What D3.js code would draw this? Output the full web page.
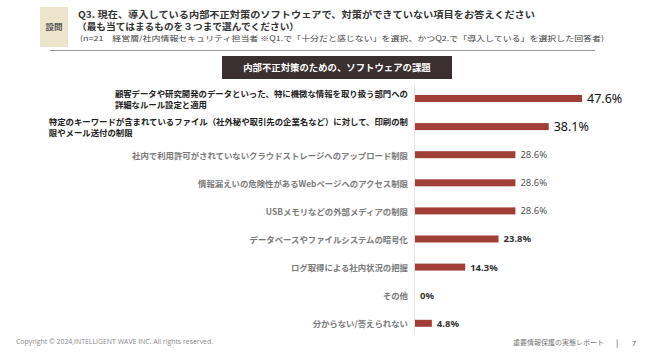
<!DOCTYPE html>
<html>
<head>
<meta charset="utf-8">
<script src="https://cdn.jsdelivr.net/npm/d3@7"></script>
<style>
  body { margin: 0; background: #fff; }
  svg { display: block; }
  text { font-family: "Noto Sans CJK JP", "Noto Sans", sans-serif; }
</style>
</head>
<body>
<div id="chart"></div>
<script>
// Categories, one array of lines per item
var categories = [
  ['顧客データや研究開発のデータといった、特に機微な情報を取り扱う部門への', '詳細なルール設定と適用'],
  ['特定のキーワードが含まれているファイル（社外秘や取引先の企業名など）に対して、印刷の制', '限やメール送付の制限'],
  ['社内で利用許可がされていないクラウドストレージへのアップロード制限'],
  ['情報漏えいの危険性があるWebページへのアクセス制限'],
  ['USBメモリなどの外部メディアの制限'],
  ['データベースやファイルシステムの暗号化'],
  ['ログ取得による社内状況の把握'],
  ['その他'],
  ['分からない/答えられない']
];

// Share of respondents (%)
var values = [47.6, 38.1, 28.6, 28.6, 28.6, 23.8, 14.3, 0, 4.8];

// Value labels as printed
var valueLabels = ['47.6%', '38.1%', '28.6%', '28.6%', '28.6%', '23.8%', '14.3%', '0%', '4.8%'];

var headerLines = [
  'Q3. 現在、導入している内部不正対策のソフトウェアで、対策ができていない項目をお答えください',
  '（最も当てはまるものを３つまで選んでください）',
  '(n=21　経営層/社内情報セキュリティ担当者 ※Q1.で「十分だと感じない」を選択、かつQ2.で「導入している」を選択した回答者)'
];

var chartTitle = '内部不正対策のための、ソフトウェアの課題';

var width = 665,
  height = 363;

var svg = d3.select('#chart').append('svg')
  .attr('width', width)
  .attr('height', height);

// Question block
svg.append('rect')
  .attr('x', 40).attr('y', 7)
  .attr('width', 28).attr('height', 40)
  .attr('fill', '#ede5cb');

svg.append('text')
  .attr('x', 54).attr('y', 30)
  .attr('text-anchor', 'middle')
  .attr('font-size', 8.5)
  .attr('font-weight', 'bold')
  .attr('fill', '#555')
  .text('設問');

svg.append('text')
  .attr('x', 78).attr('y', 18)
  .attr('font-size', 9)
  .attr('font-weight', 'bold')
  .attr('fill', '#333')
  .attr('textLength', 457)
  .attr('lengthAdjust', 'spacingAndGlyphs')
  .text(headerLines[0]);

svg.append('text')
  .attr('x', 77).attr('y', 30)
  .attr('font-size', 9)
  .attr('font-weight', 'bold')
  .attr('fill', '#333')
  .attr('textLength', 222)
  .attr('lengthAdjust', 'spacingAndGlyphs')
  .text(headerLines[1]);

svg.append('text')
  .attr('x', 80).attr('y', 41)
  .attr('font-size', 7)
  .attr('fill', '#444')
  .attr('textLength', 524)
  .attr('lengthAdjust', 'spacingAndGlyphs')
  .text(headerLines[2]);

svg.append('line')
  .attr('x1', 50).attr('x2', 595)
  .attr('y1', 50.5).attr('y2', 50.5)
  .attr('stroke', '#999')
  .attr('stroke-width', 1);

// Chart title box
svg.append('rect')
  .attr('x', 222).attr('y', 56)
  .attr('width', 230).attr('height', 23)
  .attr('fill', '#3a3030');

svg.append('text')
  .attr('x', 337).attr('y', 70.8)
  .attr('text-anchor', 'middle')
  .attr('font-size', 9.4)
  .attr('font-weight', 'bold')
  .attr('fill', '#fff')
  .text(chartTitle);

// Scales
var x = d3.scaleLinear()
  .domain([0, 50])
  .range([414, 414 + 175.5]);

var y = d3.scalePoint()
  .domain(d3.range(categories.length))
  .range([98.5, 323.3]);

var barHeight = 7;

// Axis line
svg.append('line')
  .attr('x1', x(0) + 0.5).attr('x2', x(0) + 0.5)
  .attr('y1', 85).attr('y2', 334)
  .attr('stroke', '#e4e4e4')
  .attr('stroke-width', 1);

// Bars
svg.selectAll('rect.bar')
  .data(values)
  .enter()
  .append('rect')
  .attr('class', 'bar')
  .attr('x', x(0) + 1)
  .attr('y', function (d, i) { return y(i) - barHeight / 2; })
  .attr('width', function (d) { return Math.max(0, x(d) - x(0)); })
  .attr('height', barHeight)
  .attr('fill', '#a23e38');

// Value labels: first two large, middle three light, rest bold
svg.selectAll('text.value')
  .data(values)
  .enter()
  .append('text')
  .attr('class', 'value')
  .attr('x', function (d) { return x(d) + 6; })
  .attr('y', function (d, i) { return y(i); })
  .attr('dy', '0.36em')
  .style('font-family', '"Noto Sans", sans-serif')
  .attr('font-size', function (d, i) { return i < 2 ? 12.5 : 9.5; })
  .attr('font-weight', function (d, i) { return i <= 4 ? 'normal' : 'bold'; })
  .attr('fill', function (d, i) { return i < 2 ? '#111' : (i <= 4 ? '#555' : '#333'); })
  .text(function (d, i) { return valueLabels[i]; });

// Category labels
var labelRight = 408,
  lineGap = 11;

svg.selectAll('g.label')
  .data(categories)
  .enter()
  .append('g')
  .attr('class', 'label')
  .each(function (lines, i) {
    var g = d3.select(this),
      top = y(i) - (lines.length - 1) * lineGap / 2 + 1,
      strong = i < 2;

    var first = g.append('text')
      .attr('x', labelRight)
      .attr('y', top)
      .attr('dy', '0.36em')
      .attr('text-anchor', 'end')
      .attr('font-size', 8.4)
      .attr('font-weight', 'bold')
      .attr('fill', strong ? '#222' : '#7a7a7a')
      .text(lines[0]);

    if (lines.length > 1) {
      var left = labelRight - first.node().getComputedTextLength();
      g.append('text')
        .attr('x', left)
        .attr('y', top + lineGap)
        .attr('dy', '0.36em')
        .attr('font-size', 8.4)
        .attr('font-weight', 'bold')
        .attr('fill', strong ? '#222' : '#7a7a7a')
        .text(lines[1]);
    }
  });

// Footer
svg.append('text')
  .attr('x', 16).attr('y', 344)
  .style('font-family', '"Open Sans", sans-serif')
  .attr('font-size', 6.5)
  .attr('fill', '#888')
  .attr('textLength', 197)
  .attr('lengthAdjust', 'spacingAndGlyphs')
  .text('Copyright © 2024,INTELLIGENT WAVE INC. All rights reserved.');

svg.append('text')
  .attr('x', 513).attr('y', 345)
  .attr('font-size', 7)
  .attr('fill', '#777')
  .text('重要情報保護の実態レポート');

svg.append('text')
  .attr('x', 616).attr('y', 346)
  .attr('font-size', 8)
  .attr('fill', '#555')
  .text('|');

svg.append('text')
  .attr('x', 632).attr('y', 346)
  .style('font-family', '"Noto Sans", sans-serif')
  .attr('font-size', 7)
  .attr('fill', '#555')
  .text('7');
</script>
</body>
</html>
